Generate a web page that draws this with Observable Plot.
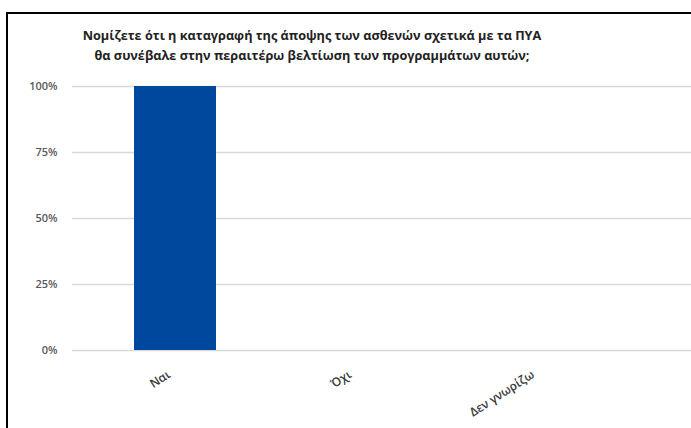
<!DOCTYPE html>
<html>
<head>
<meta charset="utf-8">
<script src="https://cdn.jsdelivr.net/npm/d3@7"></script>
<script src="https://cdn.jsdelivr.net/npm/@observablehq/plot@0.6"></script>
<style>
  html, body { margin: 0; padding: 0; background: #fff; }
  #wrap { position: relative; width: 691px; height: 428px; overflow: hidden; font-family: "Open Sans", sans-serif; }
  #frame { position: absolute; left: 6px; top: 12px; width: 700px; height: 430px;
           border-top: 2px solid #000; border-left: 2px solid #000; box-sizing: border-box; }
  #title { position: absolute; left: 0; width: 624px; top: 25px; text-align: center;
           font-weight: 700; font-size: 12.7px; line-height: 20px; color: #222; }
  #chart { position: absolute; left: 0; top: 0; }
</style>
</head>
<body>
<div id="wrap">
  <div id="frame"></div>
  <div id="title">Νομίζετε ότι η καταγραφή της άποψης των ασθενών σχετικά με τα ΠΥΑ<br>θα συνέβαλε στην περαιτέρω βελτίωση των προγραμμάτων αυτών;</div>
  <div id="chart"></div>
</div>
<script>
// Answers and share of respondents
const categories = ["Ναι", "Όχι", "Δεν γνωρίζω"];
const shares = [1.0, 0, 0];
const yTicks = [0, 0.25, 0.5, 0.75, 1];

const rows = categories.map((c, i) => ({answer: c, share: shares[i]}));

// rotated category labels sit slightly left of each band centre
const labelShift = {"Ναι": -9, "Όχι": -34, "Δεν γνωρίζω": -57};

const chart = Plot.plot({
  width: 691,
  height: 428,
  marginTop: 86,
  marginBottom: 78,
  marginLeft: 72,
  marginRight: 0,
  style: {background: "transparent", fontFamily: "Open Sans, sans-serif"},
  x: {domain: categories, paddingInner: 0.6, paddingOuter: 0.3, axis: null},
  y: {domain: [0, 1], axis: null},
  marks: [
    Plot.ruleY(yTicks, {stroke: "#d9d9d9", strokeWidth: 1.5}),
    Plot.barY(rows, {x: "answer", y: "share", fill: "#00479e"}),
    Plot.axisY(yTicks, {
      tickSize: 0, tickPadding: 15, tickFormat: d3.format(".0%"),
      fontSize: 11, fontWeight: 600, fill: "#595959", label: null
    }),
    ...categories.map(c => Plot.text([c], {
      x: d => d, frameAnchor: "bottom", text: d => d,
      rotate: -33, textAnchor: "end", lineAnchor: "top",
      dx: labelShift[c], dy: 19, fontSize: 12, fontWeight: 600, fill: "#3a3a3a"
    }))
  ]
});
document.getElementById("chart").appendChild(chart);
</script>
</body>
</html>
